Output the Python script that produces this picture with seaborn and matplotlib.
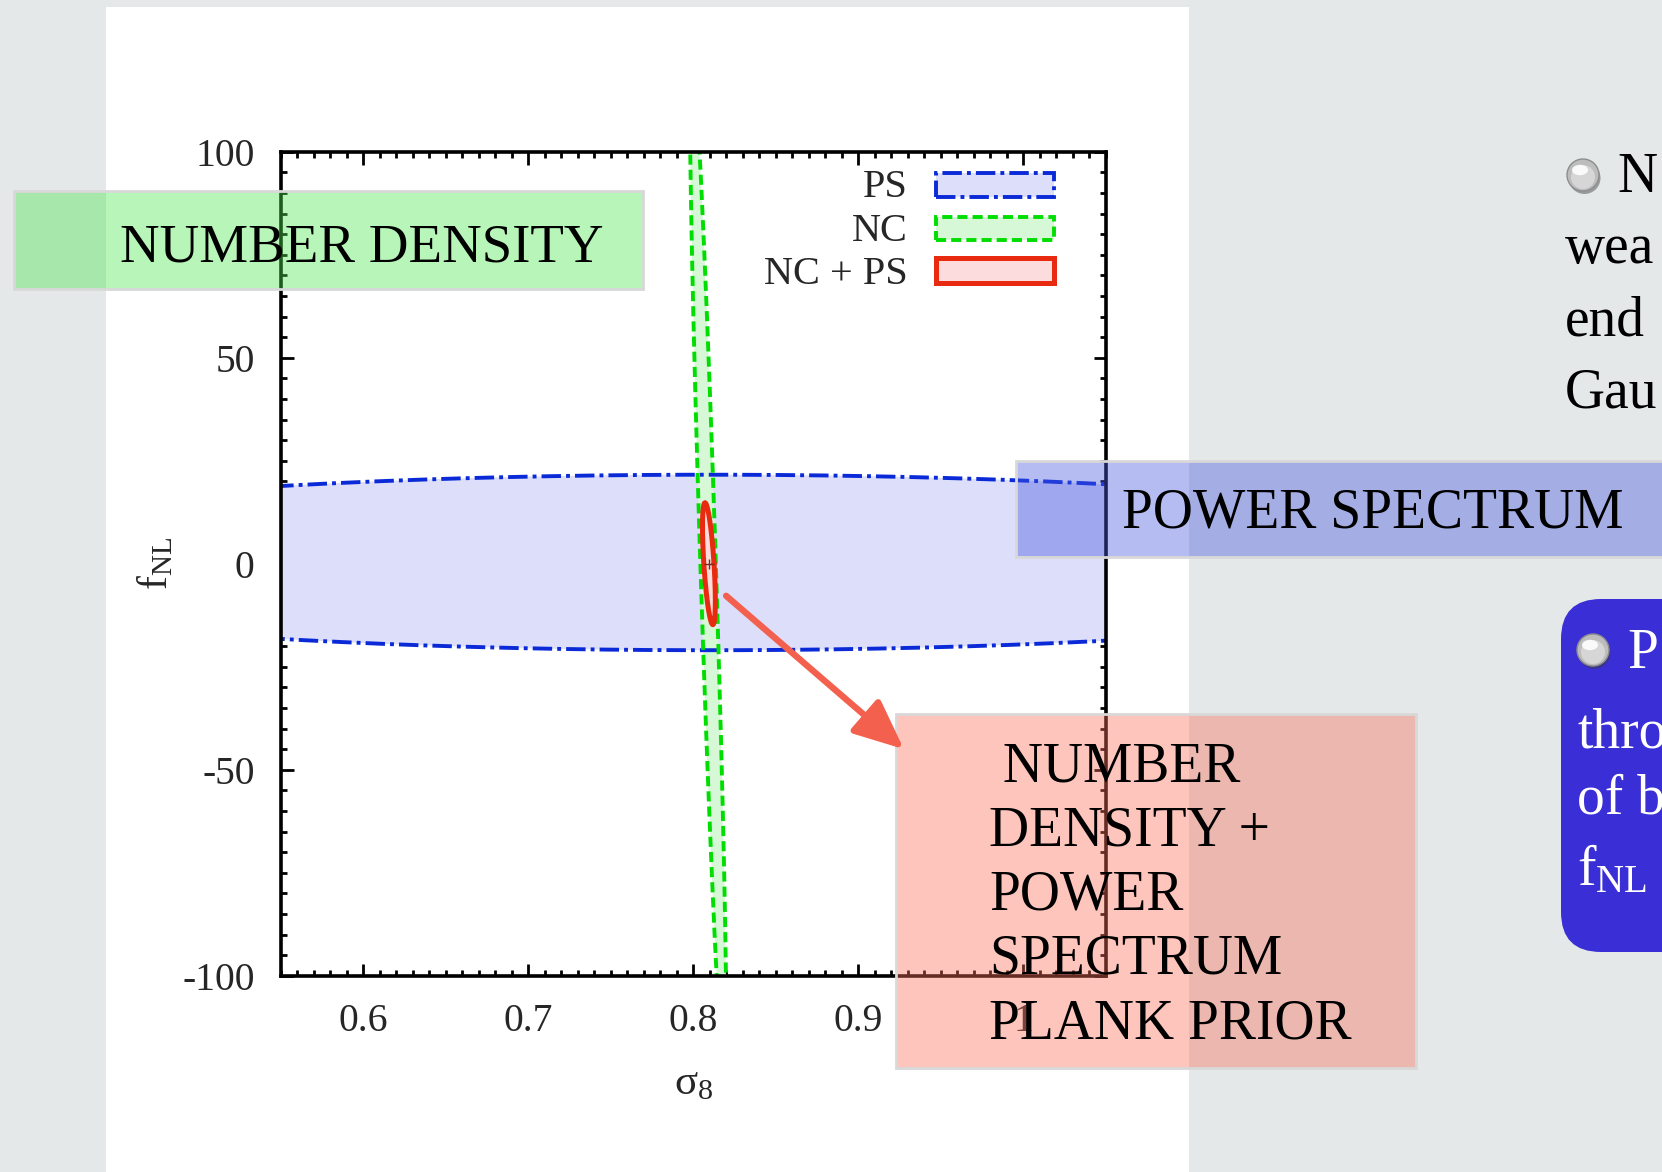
import numpy as np
import matplotlib
matplotlib.use("Agg")
import matplotlib.pyplot as plt
import seaborn as sns
from matplotlib.patches import Rectangle, FancyBboxPatch, Circle, Ellipse, FancyArrowPatch, ArrowStyle

# ---------------------------------------------------------------------------
# Forecast constraints in the (sigma_8, f_NL) plane
# ---------------------------------------------------------------------------
probes = ["PS", "NC", "NC + PS"]
center_sigma8 = [0.810, 0.809, 0.8095]
center_fnl = [0.3, 0.0, 0.0]
half_width_sigma8 = [0.53, 0.0047, 0.0031]   # half extent along sigma_8 at fixed f_NL
half_length_fnl = [21.3, 125.0, 14.8]        # half extent along f_NL
degeneracy_slope = [0.0, -8.0e-5, -1.6e-4]   # d sigma_8 / d f_NL along the ellipse axis

fill_colors = ["#dcdefa", "#d6f8d6", "#fcdcdc"]
edge_colors = ["#0a2ad8", "#00dd00", "#e82a10"]
edge_styles = [(0, (5, 1.3, 1.0, 1.3)), (0, (2.6, 1.3)), "-"]
edge_widths = [2.8, 2.8, 3.6]

x_tick_values = [0.6, 0.7, 0.8, 0.9, 1.0]
x_tick_labels = ["0.6", "0.7", "0.8", "0.9", "1"]
y_tick_values = [-100, -50, 0, 50, 100]
y_tick_labels = ["-100", "-50", "0", "50", "100"]

# slide annotations
label_nc = "NUMBER DENSITY"
label_ps = "POWER SPECTRUM"
label_joint = [" NUMBER", "DENSITY +", "POWER", "SPECTRUM", "PLANK PRIOR"]
side_lines = ["wea", "end", "Gau"]
box_lines = ["thro", "of b"]

W, H = 1662, 1172
sns.set_theme(style="ticks")
plt.rcParams["font.family"] = ["Liberation Serif", "DejaVu Serif"]
plt.rcParams["mathtext.fontset"] = "custom"
plt.rcParams["mathtext.rm"] = "Liberation Serif"
plt.rcParams["mathtext.it"] = "Liberation Serif:italic"
plt.rcParams["axes.unicode_minus"] = False

fig = plt.figure(figsize=(W / 100, H / 100), dpi=100)

# ---------------- slide background and page ----------------
bg = fig.add_axes([0, 0, 1, 1], zorder=0)
bg.set_xlim(0, W)
bg.set_ylim(H, 0)
bg.axis("off")
bg.add_patch(Rectangle((0, 0), W, H, facecolor="#e4e8e9", edgecolor="none"))
# soft drop shadow on the left edge of the page
grad = np.zeros((1, 60, 4))
grad[0, :, 3] = np.linspace(0, 0.62, 60) ** 1.6
bg.imshow(grad, extent=(84, 106, H, 12), aspect="auto", interpolation="bilinear")
grad2 = np.zeros((1, 20, 4))
grad2[0, :, 3] = np.linspace(0.18, 0, 20)
bg.imshow(grad2, extent=(1189, 1195, H, 7), aspect="auto", interpolation="bilinear")
bg.add_patch(Rectangle((106, 7), 1189 - 106, H, facecolor="white", edgecolor="none"))

# ---------------- the constraint plot ----------------
ax = fig.add_axes([281 / W, (H - 975.7) / H, 824.5 / W, 824 / H], zorder=1)
ax.set_facecolor("white")

t = np.linspace(0, 2 * np.pi, 721)
outlines = []
for i in range(len(probes)):
    f = center_fnl[i] + half_length_fnl[i] * np.sin(t)
    s = center_sigma8[i] + degeneracy_slope[i] * (f - center_fnl[i]) + half_width_sigma8[i] * np.cos(t)
    outlines.append((s, f))
    ax.fill(s, f, color=fill_colors[i], zorder=1 + i, lw=0)
for i in range(len(probes)):
    s, f = outlines[i]
    sns.lineplot(x=s, y=f, sort=False, estimator=None, color=edge_colors[i],
                 linewidth=edge_widths[i], ax=ax, zorder=4 + i)
    ax.lines[-1].set_linestyle(edge_styles[i])
ax.plot([center_sigma8[2]], [center_fnl[2]], marker="+", ms=7, mew=1.0, color="#7a2a20", zorder=8)

ax.set_xlim(0.55, 1.05)
ax.set_ylim(-100, 100)
ax.set_xticks(x_tick_values)
ax.set_xticklabels(x_tick_labels)
ax.set_yticks(y_tick_values)
ax.set_yticklabels(y_tick_labels)
ax.set_xticks(np.arange(0.55, 1.0501, 0.01), minor=True)
ax.set_yticks(np.arange(-100, 100.01, 5), minor=True)
ax.tick_params(which="both", direction="in", top=True, right=True, width=2.0, color="black")
ax.tick_params(which="major", length=9, labelsize=28.5, pad=20)
ax.tick_params(which="minor", length=4.5)
ax.tick_params(axis="y", which="major", pad=19)
for sp in ax.spines.values():
    sp.set_linewidth(2.6)
    sp.set_color("black")
    sp.set_zorder(10)

ax.set_xlabel("σ$_{8}$", fontsize=31)
ax.xaxis.set_label_coords(0.5, -0.108)
ax.set_ylabel("f$_{\\mathrm{NL}}$", fontsize=30)
ax.yaxis.set_label_coords(-0.127, 0.5)

# legend drawn gnuplot style: right-aligned text, swatch to the right
leg_baselines = [0.9446, 0.8913, 0.839]
leg_boxes = [(0.9447, 0.974), (0.8932, 0.921), (0.8405, 0.871)]
for i, name in enumerate(probes):
    ax.text(0.7605, leg_baselines[i], name, transform=ax.transAxes, ha="right",
            va="baseline", fontsize=29, zorder=12)
    y0, y1 = leg_boxes[i]
    ax.add_patch(Rectangle((0.795, y0), 0.143, y1 - y0, transform=ax.transAxes,
                           facecolor=fill_colors[i], edgecolor=edge_colors[i],
                           linewidth=edge_widths[i], linestyle=edge_styles[i], zorder=12))

# ---------------- slide overlays ----------------
ov = fig.add_axes([0, 0, 1, 1], zorder=3)
ov.set_xlim(0, W)
ov.set_ylim(H, 0)
ov.axis("off")
ov.patch.set_alpha(0)

# number-density label
ov.add_patch(Rectangle((14, 191), 629, 98, facecolor=(0.31, 0.9, 0.31, 0.4),
                       edgecolor="#d8d8d8", lw=2))
ov.text(120, 262, label_nc, fontsize=39.5, va="baseline", ha="left", color="black")

# power-spectrum label
ov.add_patch(Rectangle((1016, 461), 700, 96, facecolor=(0.27, 0.35, 0.88, 0.4),
                       edgecolor="#d8d8d8", lw=2))
ov.text(1122, 528, label_ps, fontsize=40, va="baseline", ha="left", color="black")

# joint constraint label
ov.add_patch(Rectangle((896, 714), 520, 354, facecolor=(0.98, 0.43, 0.35, 0.4),
                       edgecolor="#d8d8d8", lw=2))
for k, line in enumerate(label_joint):
    ov.text(989, 781 + 64.3 * k, line, fontsize=40, va="baseline", ha="left", color="black")

# arrow from the joint ellipse to its label
ov.add_patch(FancyArrowPatch((724, 594), (906, 751),
                             arrowstyle=ArrowStyle("-|>", head_length=0.95, head_width=0.42),
                             mutation_scale=32, color="#f4604e", lw=4.6))


def bullet(x, y, r=16):
    ov.add_patch(Circle((x + 1.5, y + 3), r, facecolor="#3c3c3c", edgecolor="none", alpha=0.45))
    ov.add_patch(Circle((x, y), r, facecolor="#bdbdbd", edgecolor="#8d8d8d", lw=1))
    ov.add_patch(Circle((x, y + 2), r * 0.75, facecolor="#d6d6d6", edgecolor="none"))
    ov.add_patch(Ellipse((x - 3, y - 5), r * 1.0, r * 0.65, facecolor="white", edgecolor="none", alpha=0.9))


# text on the right of the slide
bullet(1583, 175)
ov.text(1617, 192, "N", fontsize=40, va="baseline", ha="left", color="black")
for k, line in enumerate(side_lines):
    ov.text(1565, 263 + 72.5 * k, line, fontsize=40, va="baseline", ha="left", color="black")

ov.add_patch(FancyBboxPatch((1561 + 40, 599 + 40), 200, 353 - 80,
                            boxstyle="round,pad=40", facecolor="#3a2fd6", edgecolor="none"))
bullet(1593, 650)
ov.text(1627, 668, "P", fontsize=40, va="baseline", ha="left", color="white")
for k, line in enumerate(box_lines):
    ov.text(1577, 747 + 66 * k, line, fontsize=40, va="baseline", ha="left", color="white")
ov.text(1577, 885, "f$_{\\mathrm{NL}}$", fontsize=40, va="baseline", ha="left", color="white")

fig.savefig("out.png", dpi=100)
